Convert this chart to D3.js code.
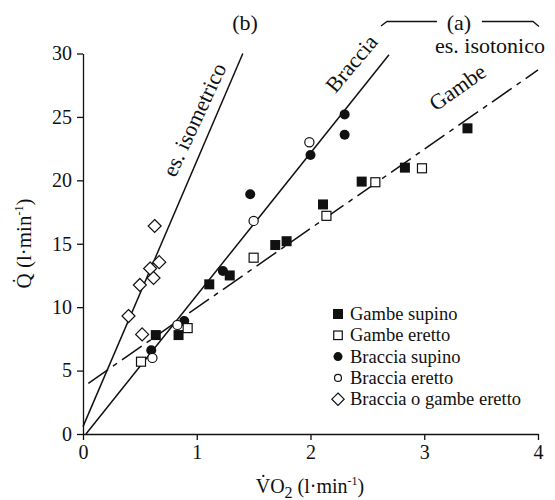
<!DOCTYPE html>
<html><head><meta charset="utf-8">
<script src="https://cdn.jsdelivr.net/npm/d3@7"></script>
<style>
body{margin:0;background:#fff}
text{font-family:"Liberation Serif","Times New Roman",serif;fill:#111}
</style>
</head><body><svg id="c" width="555" height="500"></svg>
<script>
// ---- data ----
const xTicks = [0, 1, 2, 3, 4];
const yTicks = [0, 5, 10, 15, 20, 25, 30];

const gambeSupino = [[0.64,7.8],[0.84,7.8],[1.11,11.8],[1.29,12.5],[1.69,14.9],[1.79,15.2],[2.11,18.1],[2.45,19.9],[2.83,21.0],[3.38,24.1]];
const gambeEretto = [[0.51,5.7],[0.92,8.35],[1.50,13.9],[2.14,17.2],[2.57,19.85],[2.98,20.95]];
const bracciaSupino = [[0.60,6.6],[0.89,8.9],[1.23,12.85],[1.47,18.9],[2.0,22.0],[2.3,25.2],[2.3,23.6]];
const bracciaEretto = [[0.61,6.0],[0.83,8.6],[1.50,16.8],[1.99,23.0]];
const bracciaOGambeEretto = [[0.40,9.3],[0.52,7.85],[0.50,11.75],[0.59,13.05],[0.62,12.3],[0.67,13.55],[0.63,16.4]];

const lineIsometrico = [[0,0.58],[1.405,30]];
const lineBraccia = [[0.026,0],[2.69,29.9]];
const lineGambe = [[0.047,4.0],[4.0,28.7]];

const legendLabels = ["Gambe supino","Gambe eretto","Braccia supino","Braccia eretto","Braccia o gambe eretto"];
const legendKinds = ["fsq","osq","fci","oci","dia"];
const legendScale = [1.0, 0.95, 0.9, 0.75, 0.95];

// ---- drawing ----
const svg = d3.select("#c");
const x = d3.scaleLinear().domain([0,4]).range([83,538]);
const y = d3.scaleLinear().domain([0,30]).range([434,53.5]);
const ink = "#111";

// axes
const gx = svg.append("g").attr("transform","translate(0,"+y(0)+")")
  .call(d3.axisBottom(x).tickValues(xTicks).tickFormat(d3.format("d")).tickSize(6).tickSizeOuter(0).tickPadding(5));
const gy = svg.append("g").attr("transform","translate("+x(0)+",0)")
  .call(d3.axisLeft(y).tickValues(yTicks).tickFormat(d3.format("d")).tickSize(6).tickSizeOuter(0).tickPadding(5));
[gx,gy].forEach(g=>{
  g.selectAll("path,line").attr("stroke",ink).attr("stroke-width",1.3);
  g.selectAll("text").attr("font-family","Liberation Serif").attr("font-size",20).attr("fill",ink);
});

// fitted lines
const lg = d3.line().x(d=>x(d[0])).y(d=>y(d[1]));
svg.append("path").datum(lineIsometrico).attr("d",lg).attr("fill","none").attr("stroke",ink).attr("stroke-width",1.5);
svg.append("path").datum(lineBraccia).attr("d",lg).attr("fill","none").attr("stroke",ink).attr("stroke-width",1.5);
svg.append("path").datum(lineGambe).attr("d",lg).attr("fill","none").attr("stroke",ink).attr("stroke-width",1.5)
  .attr("stroke-dasharray","24,6,5,6");

// markers
function marker(g, kind, cx, cy, s){
  s = s || 1;
  if(kind==="fsq") g.append("rect").attr("x",cx-5*s).attr("y",cy-5*s).attr("width",10*s).attr("height",10*s).attr("fill",ink);
  if(kind==="osq") g.append("rect").attr("x",cx-4.5*s).attr("y",cy-4.5*s).attr("width",9*s).attr("height",9*s).attr("fill","#fff").attr("stroke",ink).attr("stroke-width",1.2);
  if(kind==="fci") g.append("circle").attr("cx",cx).attr("cy",cy).attr("r",5*s).attr("fill",ink);
  if(kind==="oci") g.append("circle").attr("cx",cx).attr("cy",cy).attr("r",4.6*s).attr("fill","#fff").attr("stroke",ink).attr("stroke-width",1.2);
  if(kind==="dia"){ const h=6.5*s; g.append("path").attr("d",`M${cx},${cy-h}L${cx+h},${cy}L${cx},${cy+h}L${cx-h},${cy}Z`).attr("fill","#fff").attr("stroke",ink).attr("stroke-width",1.2);}
}
const mg = svg.append("g");
[[bracciaOGambeEretto,"dia"],[bracciaSupino,"fci"],[bracciaEretto,"oci"],[gambeSupino,"fsq"],[gambeEretto,"osq"]]
  .forEach(([data,kind])=>data.forEach(d=>marker(mg,kind,x(d[0]),y(d[1]))));

// legend
const leg = svg.append("g");
legendLabels.forEach((t,i)=>{
  const cy = 314 + i*21.3;
  marker(leg, legendKinds[i], 338, cy, legendScale[i]);
  leg.append("text").attr("x",350).attr("y",cy+6).attr("font-size",18.5).text(t);
});

// annotations
function rotText(txt, cx, cy, ang, size){
  svg.append("text").attr("transform",`translate(${cx},${cy}) rotate(${ang})`)
    .attr("text-anchor","middle").attr("dy","0.3em").attr("font-size",size).text(txt);
}
rotText("es. isometrico", 195, 120, -65, 22);
rotText("Braccia", 352, 64, -50, 22);
rotText("Gambe", 458, 88, -35, 22);

svg.append("text").attr("x",245).attr("y",30).attr("text-anchor","middle").attr("font-size",22).text("(b)");
svg.append("text").attr("x",459).attr("y",30).attr("text-anchor","middle").attr("font-size",22).text("(a)");
svg.append("text").attr("x",490).attr("y",53).attr("text-anchor","middle").attr("font-size",22).text("es. isotonico");
svg.append("path").attr("d","M381,26L387,21.5L437,21.5M482,21.5L533,21.5L539,26.5").attr("fill","none").attr("stroke",ink).attr("stroke-width",1.3);

// axis titles
const xt = svg.append("text").attr("x",310).attr("y",493).attr("text-anchor","middle").attr("font-size",20);
xt.append("tspan").text("V\u0307O");
xt.append("tspan").attr("font-size",16).attr("dy",5).text("2");
xt.append("tspan").attr("dy",-5).text(" (l\u00B7min");
xt.append("tspan").attr("font-size",12).attr("dy",-8).text("-1");
xt.append("tspan").attr("dy",8).text(")");

const yt = svg.append("text").attr("transform","translate(31,243.5) rotate(-90)").attr("text-anchor","middle").attr("font-size",21);
yt.append("tspan").text("Q\u0307 (l\u00B7min");
yt.append("tspan").attr("font-size",12).attr("dy",-8).text("-1");
yt.append("tspan").attr("dy",8).text(")");
</script>
</body></html>
